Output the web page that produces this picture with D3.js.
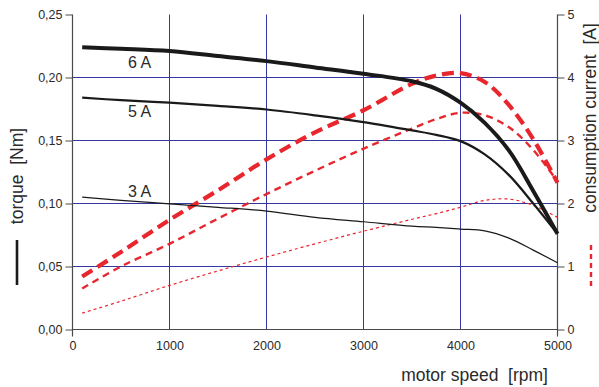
<!DOCTYPE html>
<html>
<head>
<meta charset="utf-8">
<script src="https://cdn.jsdelivr.net/npm/d3@7"></script>
<style>
  html, body { margin: 0; padding: 0; background: #fff; }
  svg { display: block; font-family: "Liberation Sans", Arial, sans-serif; }
  text { white-space: pre; }
</style>
</head>
<body>
<svg id="chart" width="599" height="387"></svg>
<script>
// Motor speed samples [rpm]
const rpm = [100, 500, 1000, 1500, 2000, 2500, 3000, 3500, 3750, 4000, 4250, 4500, 4750, 5000];

// Torque [Nm] at 6 A, 5 A, 3 A
const torque6A = [0.224, 0.2228, 0.221, 0.217, 0.213, 0.208, 0.203, 0.197, 0.191, 0.180, 0.164, 0.142, 0.110, 0.076];
const torque5A = [0.184, 0.182, 0.180, 0.1775, 0.1746, 0.170, 0.1646, 0.158, 0.1545, 0.1495, 0.139, 0.1225, 0.100, 0.076];
const torque3A = [0.105, 0.1025, 0.0997, 0.097, 0.094, 0.089, 0.0855, 0.082, 0.081, 0.0797, 0.0783, 0.0725, 0.063, 0.053];

// Consumption current [A] at 6 A, 5 A, 3 A
const current6A = [0.84, 1.23, 1.74, 2.21, 2.70, 3.13, 3.48, 3.90, 4.03, 4.07, 3.93, 3.56, 3.02, 2.33];
const current5A = [0.65, 1.00, 1.36, 1.76, 2.15, 2.52, 2.87, 3.19, 3.34, 3.44, 3.40, 3.21, 2.85, 2.35];
const current3A = [0.26, 0.45, 0.70, 0.93, 1.15, 1.36, 1.56, 1.75, 1.84, 1.94, 2.05, 2.07, 1.97, 1.78];

// Axis ticks
const xTicks = [0, 1000, 2000, 3000, 4000, 5000];
const yTicks = [0, 0.05, 0.10, 0.15, 0.20, 0.25];
const yRTicks = [0, 1, 2, 3, 4, 5];

const curveLabels = ["6 A", "5 A", "3 A"];

const svg = d3.select("#chart");
const gridColor = "#3438a0";
const axisColor = "#4a4a4a";
const textColor = "#2a2a2a";
const red = "#e8262d";

const x = d3.scaleLinear().domain([0, 5000]).range([72.5, 557.5]);
const y = d3.scaleLinear().domain([0, 0.25]).range([329.5, 14.5]);
const yR = d3.scaleLinear().domain([0, 5]).range([329.5, 14.5]);

// grid
svg.append("g").selectAll("line")
  .data(yTicks.filter(d => d > 0 && d < 0.25))
  .join("line")
  .attr("x1", x(0)).attr("x2", x(5000))
  .attr("y1", d => y(d)).attr("y2", d => y(d))
  .attr("stroke", gridColor).attr("stroke-width", 1);
svg.append("g").selectAll("line")
  .data(xTicks.filter(d => d > 0 && d < 5000))
  .join("line")
  .attr("x1", d => x(d)).attr("x2", d => x(d))
  .attr("y1", y(0.25)).attr("y2", y(0))
  .attr("stroke", gridColor).attr("stroke-width", 1);

// left axis
const fmtL = d => d3.format(".2f")(d).replace(".", ",");
const leftAxis = d3.axisLeft(y).tickValues(yTicks).tickFormat(fmtL).tickSize(7).tickPadding(3);
const gL = svg.append("g").attr("transform", `translate(${x(0)},0)`).call(leftAxis);

// right axis
const rightAxis = d3.axisRight(yR).tickValues(yRTicks).tickFormat(d3.format("d")).tickSize(7).tickPadding(3);
const gR = svg.append("g").attr("transform", `translate(${x(5000)},0)`).call(rightAxis);

// bottom axis
const bottomAxis = d3.axisBottom(x).tickValues(xTicks).tickFormat(d3.format("d")).tickSize(0).tickPadding(12);
const gB = svg.append("g").attr("transform", `translate(0,${y(0)})`).call(bottomAxis);

[gL, gR, gB].forEach(g => {
  g.select(".domain").remove();
  g.selectAll(".tick line").attr("stroke", axisColor).attr("stroke-width", 1);
  g.selectAll(".tick text").attr("fill", textColor).style("font-size", "12.5px")
    .style("font-family", "'Liberation Sans', Arial, sans-serif");
});
gB.selectAll(".tick line").remove();

// axis lines, extended slightly below the baseline
svg.append("line").attr("x1", x(0)).attr("x2", x(0)).attr("y1", y(0.25)).attr("y2", y(0) + 7)
  .attr("stroke", axisColor).attr("stroke-width", 1.2);
svg.append("line").attr("x1", x(5000)).attr("x2", x(5000)).attr("y1", y(0.25)).attr("y2", y(0) + 7)
  .attr("stroke", axisColor).attr("stroke-width", 1.2);
svg.append("line").attr("x1", x(0)).attr("x2", x(5000)).attr("y1", y(0)).attr("y2", y(0))
  .attr("stroke", axisColor).attr("stroke-width", 1.2);

// current curves (right axis)
const lineR = d3.line().x((d, i) => x(rpm[i])).y(d => yR(d)).curve(d3.curveCatmullRom.alpha(0.5));
const currentSeries = [
  { values: current3A, width: 1.2, dash: "3,3" },
  { values: current5A, width: 2.4, dash: "7,5" },
  { values: current6A, width: 4.2, dash: "12,6" }
];
svg.append("g").selectAll("path")
  .data(currentSeries)
  .join("path")
  .attr("d", d => lineR(d.values))
  .attr("fill", "none")
  .attr("stroke", red)
  .attr("stroke-width", d => d.width)
  .attr("stroke-dasharray", d => d.dash);

// torque curves (left axis)
const lineL = d3.line().x((d, i) => x(rpm[i])).y(d => y(d)).curve(d3.curveCatmullRom.alpha(0.5));
const torqueSeries = [
  { values: torque3A, width: 1.2 },
  { values: torque5A, width: 2.2 },
  { values: torque6A, width: 4.0 }
];
svg.append("g").selectAll("path")
  .data(torqueSeries)
  .join("path")
  .attr("d", d => lineL(d.values))
  .attr("fill", "none")
  .attr("stroke", "#1a1a1a")
  .attr("stroke-width", d => d.width)
  .attr("stroke-linejoin", "round");

// curve labels next to each torque curve (6 A and 5 A below, 3 A above)
const labelData = [
  { text: curveLabels[0], v: torque6A[2], dy: 17 },
  { text: curveLabels[1], v: torque5A[2], dy: 14 },
  { text: curveLabels[2], v: torque3A[2], dy: -7 }
];
svg.append("g").selectAll("text")
  .data(labelData)
  .join("text")
  .attr("x", x(0) + 67)
  .attr("y", d => y(d.v) + d.dy)
  .attr("text-anchor", "middle")
  .attr("fill", textColor)
  .style("font-size", "16px")
  .text(d => d.text);

// axis titles
svg.append("text")
  .attr("x", 548).attr("y", 381)
  .attr("text-anchor", "end")
  .attr("fill", textColor)
  .style("font-size", "17.5px")
  .text("motor speed  [rpm]");

svg.append("text")
  .attr("transform", "translate(23,176) rotate(-90)")
  .attr("text-anchor", "middle")
  .attr("fill", textColor)
  .style("font-size", "17.5px")
  .text("torque  [Nm]");
svg.append("line")
  .attr("x1", 17).attr("x2", 17).attr("y1", 240).attr("y2", 285)
  .attr("stroke", "#1a1a1a").attr("stroke-width", 2.6);

svg.append("text")
  .attr("transform", "translate(596,118) rotate(-90)")
  .attr("text-anchor", "middle")
  .attr("fill", textColor)
  .style("font-size", "17.5px")
  .text("consumption current  [A]");
svg.append("line")
  .attr("x1", 591).attr("x2", 591).attr("y1", 245).attr("y2", 290)
  .attr("stroke", red).attr("stroke-width", 2.4).attr("stroke-dasharray", "5,4");
</script>
</body>
</html>
